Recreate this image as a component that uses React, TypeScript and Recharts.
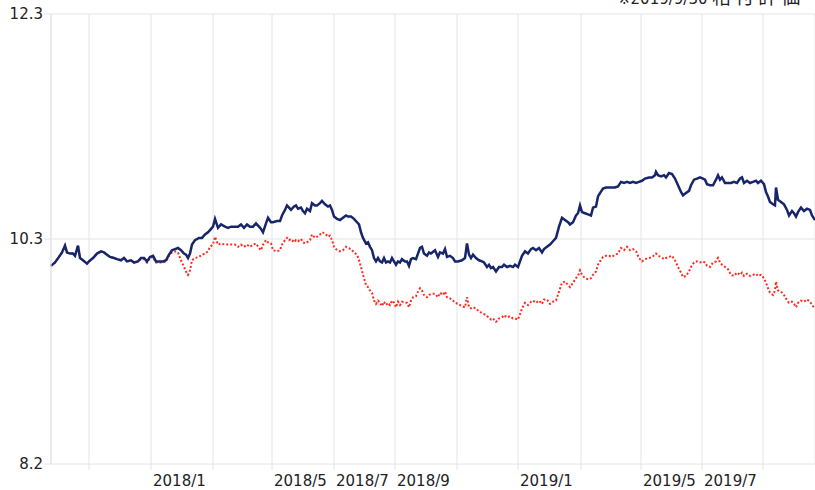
import React from 'react';
import { LineChart, Line, XAxis, YAxis, CartesianGrid } from 'recharts';

// observation index along the x axis (one step per day shown)
const dayIdx = [
  0, 4, 8, 11, 14, 16, 19, 22, 24, 27,
  29, 32, 36, 38, 42, 46, 50, 53, 56, 59,
  63, 66, 70, 73, 76, 80, 83, 87, 90, 93,
  96, 99, 102, 105, 109, 112, 115, 118, 121, 124,
  127, 130, 133, 135, 137, 139, 141, 144, 148, 151,
  154, 157, 159, 162, 164, 167, 170, 174, 177, 180,
  184, 187, 190, 193, 196, 199, 202, 205, 208, 210,
  212, 215, 217, 220, 222, 226, 229, 231, 234, 236,
  238, 240, 243, 245, 247, 250, 252, 254, 256, 259,
  261, 264, 266, 269, 271, 274, 277, 279, 281, 283,
  286, 289, 292, 295, 297, 300, 303, 306, 308, 310,
  312, 315, 317, 319, 321, 323, 325, 327, 329, 331,
  333, 335, 337, 339, 341, 343, 345, 347, 349, 351,
  354, 356, 358, 360, 362, 365, 367, 369, 371, 373,
  376, 378, 380, 384, 387, 389, 392, 394, 396, 399,
  402, 404, 407, 411, 414, 416, 418, 420, 422, 425,
  428, 431, 433, 436, 438, 440, 442, 445, 448, 451,
  453, 456, 459, 462, 464, 467, 469, 471, 474, 477,
  480, 482, 485, 488, 491, 493, 496, 499, 502, 505,
  508, 511, 514, 517, 519, 522, 525, 527, 529, 531,
  534, 537, 540, 542, 545, 547, 549, 552, 555, 558,
  561, 564, 567, 570, 573, 576, 579, 582, 585, 588,
  591, 594, 598, 601, 604, 605, 607, 610, 613, 615,
  618, 621, 624, 627, 630, 632, 635, 638, 640, 643,
  646, 649, 652, 654, 656, 659, 662, 665, 667, 669,
  671, 674, 677, 680, 683, 686, 689, 691, 693, 696,
  699, 702, 705, 707, 710, 713, 715, 717, 719, 722,
  724, 725, 727, 730, 733, 736, 738, 741, 743, 745,
  747, 750, 753, 756, 759, 761, 764,
];

// solid navy line
const fundValues = [
  10.01, 10.04, 10.09, 10.13, 10.19, 10.13, 10.12, 10.12, 10.10, 10.19,
  10.08, 10.06, 10.03, 10.05, 10.08, 10.12, 10.14, 10.13, 10.11, 10.09,
  10.08, 10.07, 10.06, 10.08, 10.05, 10.06, 10.04, 10.05, 10.08, 10.08,
  10.05, 10.09, 10.10, 10.05, 10.05, 10.05, 10.06, 10.11, 10.15, 10.16,
  10.17, 10.15, 10.12, 10.11, 10.08, 10.12, 10.20, 10.24, 10.26, 10.26,
  10.29, 10.31, 10.33, 10.36, 10.43, 10.35, 10.38, 10.36, 10.35, 10.36,
  10.36, 10.36, 10.38, 10.35, 10.38, 10.36, 10.36, 10.39, 10.36, 10.34,
  10.31, 10.39, 10.44, 10.40, 10.40, 10.41, 10.41, 10.46, 10.51, 10.55,
  10.53, 10.51, 10.54, 10.55, 10.52, 10.53, 10.50, 10.48, 10.52, 10.50,
  10.57, 10.55, 10.55, 10.57, 10.59, 10.56, 10.54, 10.55, 10.51, 10.45,
  10.43, 10.42, 10.44, 10.46, 10.45, 10.45, 10.43, 10.40, 10.38, 10.31,
  10.26, 10.21, 10.22, 10.18, 10.15, 10.08, 10.05, 10.08, 10.05, 10.04,
  10.08, 10.04, 10.05, 10.04, 10.08, 10.05, 10.02, 10.05, 10.04, 10.07,
  10.05, 10.05, 10.01, 10.07, 10.08, 10.07, 10.12, 10.17, 10.18, 10.12,
  10.10, 10.13, 10.12, 10.15, 10.09, 10.13, 10.12, 10.16, 10.09, 10.10,
  10.08, 10.05, 10.05, 10.06, 10.08, 10.21, 10.11, 10.08, 10.11, 10.08,
  10.06, 10.05, 10.04, 10.00, 10.02, 9.99, 10.00, 9.96, 10.00, 10.00,
  10.02, 10.00, 10.01, 10.00, 10.02, 10.00, 10.05, 10.10, 10.14, 10.12,
  10.16, 10.17, 10.15, 10.17, 10.13, 10.16, 10.18, 10.20, 10.23, 10.26,
  10.36, 10.44, 10.42, 10.40, 10.38, 10.40, 10.46, 10.48, 10.55, 10.49,
  10.48, 10.47, 10.46, 10.53, 10.54, 10.63, 10.66, 10.70, 10.71, 10.71,
  10.71, 10.71, 10.72, 10.76, 10.75, 10.76, 10.75, 10.76, 10.75, 10.76,
  10.77, 10.79, 10.80, 10.80, 10.82, 10.85, 10.82, 10.81, 10.82, 10.80,
  10.84, 10.83, 10.79, 10.73, 10.67, 10.64, 10.66, 10.68, 10.73, 10.78,
  10.79, 10.80, 10.79, 10.78, 10.74, 10.73, 10.73, 10.78, 10.82, 10.78,
  10.80, 10.75, 10.75, 10.75, 10.76, 10.75, 10.79, 10.80, 10.75, 10.77,
  10.75, 10.76, 10.77, 10.75, 10.77, 10.74, 10.67, 10.63, 10.58, 10.56,
  10.55, 10.71, 10.60, 10.58, 10.56, 10.51, 10.46, 10.50, 10.48, 10.45,
  10.49, 10.53, 10.50, 10.52, 10.51, 10.46, 10.42,
];

// dotted red line
const benchValues = [
  10.01, 10.04, 10.09, 10.13, 10.19, 10.13, 10.12, 10.12, 10.10, 10.19,
  10.08, 10.06, 10.03, 10.05, 10.08, 10.12, 10.14, 10.13, 10.11, 10.09,
  10.08, 10.07, 10.06, 10.08, 10.05, 10.06, 10.04, 10.05, 10.07, 10.07,
  10.04, 10.08, 10.09, 10.04, 10.04, 10.04, 10.05, 10.10, 10.13, 10.14,
  10.13, 10.06, 10.00, 9.96, 9.93, 9.97, 10.06, 10.08, 10.09, 10.11,
  10.12, 10.14, 10.18, 10.20, 10.27, 10.20, 10.21, 10.20, 10.20, 10.20,
  10.20, 10.18, 10.20, 10.18, 10.20, 10.18, 10.20, 10.21, 10.17, 10.15,
  10.20, 10.24, 10.22, 10.21, 10.15, 10.14, 10.15, 10.20, 10.24, 10.26,
  10.24, 10.25, 10.22, 10.24, 10.23, 10.25, 10.22, 10.21, 10.22, 10.24,
  10.29, 10.26, 10.27, 10.29, 10.31, 10.30, 10.27, 10.28, 10.24, 10.18,
  10.15, 10.14, 10.15, 10.18, 10.17, 10.16, 10.13, 10.11, 10.06, 10.00,
  9.93, 9.84, 9.82, 9.79, 9.77, 9.70, 9.67, 9.70, 9.68, 9.65,
  9.69, 9.66, 9.68, 9.66, 9.70, 9.68, 9.64, 9.69, 9.66, 9.69,
  9.68, 9.68, 9.64, 9.70, 9.73, 9.74, 9.78, 9.81, 9.79, 9.75,
  9.73, 9.75, 9.76, 9.76, 9.73, 9.77, 9.75, 9.78, 9.73, 9.72,
  9.70, 9.68, 9.67, 9.65, 9.64, 9.73, 9.64, 9.63, 9.64, 9.63,
  9.60, 9.59, 9.58, 9.56, 9.55, 9.53, 9.54, 9.51, 9.54, 9.55,
  9.57, 9.55, 9.56, 9.54, 9.54, 9.53, 9.58, 9.63, 9.68, 9.66,
  9.69, 9.70, 9.68, 9.70, 9.67, 9.71, 9.71, 9.67, 9.69, 9.70,
  9.78, 9.86, 9.87, 9.84, 9.82, 9.86, 9.90, 9.92, 9.97, 9.93,
  9.90, 9.89, 9.90, 9.93, 9.96, 10.02, 10.05, 10.09, 10.10, 10.10,
  10.09, 10.11, 10.12, 10.17, 10.15, 10.18, 10.15, 10.16, 10.14, 10.08,
  10.05, 10.07, 10.08, 10.09, 10.11, 10.12, 10.10, 10.09, 10.07, 10.08,
  10.09, 10.10, 10.06, 10.00, 9.95, 9.91, 9.92, 9.96, 10.00, 10.04,
  10.05, 10.04, 10.05, 10.04, 10.01, 10.00, 10.04, 10.05, 10.08, 10.04,
  10.02, 10.00, 9.98, 9.93, 9.92, 9.95, 9.93, 9.95, 9.92, 9.94,
  9.92, 9.93, 9.94, 9.92, 9.93, 9.90, 9.86, 9.81, 9.77, 9.75,
  9.79, 9.87, 9.79, 9.78, 9.75, 9.70, 9.68, 9.69, 9.67, 9.64,
  9.68, 9.70, 9.69, 9.71, 9.69, 9.66, 9.63,
];

// month boundaries on the x axis and their labels (blank = gridline only)
const monthTicks = [38, 100, 162, 221, 283, 344, 406, 467, 530, 590, 651, 712];
const monthLabels = ['', '2018/1', '', '2018/5', '2018/7', '2018/9', '', '2019/1', '', '2019/5', '2019/7', ''];

const yTicks = [8.24, 10.25, 12.26];
const noteDate = '※2019/9/30 ';
const noteText = '格付評価';

const FONT = '"DejaVu Sans", Verdana, sans-serif';
const CJK = '"Noto Sans CJK JP", sans-serif';
const GRID = '#e4e4e4';

const data = dayIdx.map((d, i) => ({ d, fund: fundValues[i], bench: benchValues[i] }));

const MonthTick = (props: any) => {
  const { x, y, payload } = props;
  const i = monthTicks.indexOf(payload.value);
  const label = i >= 0 ? monthLabels[i] : '';
  if (!label) return null;
  return (
    <text x={x + 2} y={y + 14} textAnchor="start" fontSize={15} fontFamily={FONT} fill="#222">
      {label}
    </text>
  );
};

export default function App() {
  return (
    <div style={{ position: 'absolute', left: 0, top: 0, width: 815, height: 490, background: '#fff' }}>
      <LineChart width={815} height={490} data={data} margin={{ top: 14, right: 0, bottom: 0, left: 0 }}>
        <CartesianGrid stroke={GRID} strokeWidth={1} />
        <XAxis
          dataKey="d"
          type="number"
          domain={[0, 764]}
          ticks={monthTicks}
          interval={0}
          height={26}
          axisLine={false}
          tickSize={6}
          tickLine={{ stroke: GRID }}
          tick={<MonthTick />}
        />
        <YAxis
          type="number"
          domain={[8.24, 12.26]}
          ticks={yTicks}
          interval={0}
          width={51}
          allowDataOverflow
          axisLine={{ stroke: GRID }}
          tickSize={7}
          tickMargin={1}
          tickLine={{ stroke: GRID }}
          tickFormatter={(v: number) => v.toFixed(1)}
          tick={{ fontSize: 15, fontFamily: FONT, fill: '#222' }}
        />
        <Line
          type="linear"
          dataKey="bench"
          stroke="#ff2a1f"
          strokeWidth={2}
          strokeDasharray="2 2"
          dot={false}
          isAnimationActive={false}
        />
        <Line
          type="linear"
          dataKey="fund"
          stroke="#17266b"
          strokeWidth={2.5}
          dot={false}
          isAnimationActive={false}
        />
        <text x={618} y={4} fontSize={15} fontFamily={FONT} fill="#222">
          {noteDate}
          <tspan fontFamily={CJK} fontSize={19} letterSpacing={4}>{noteText}</tspan>
        </text>
      </LineChart>
    </div>
  );
}
